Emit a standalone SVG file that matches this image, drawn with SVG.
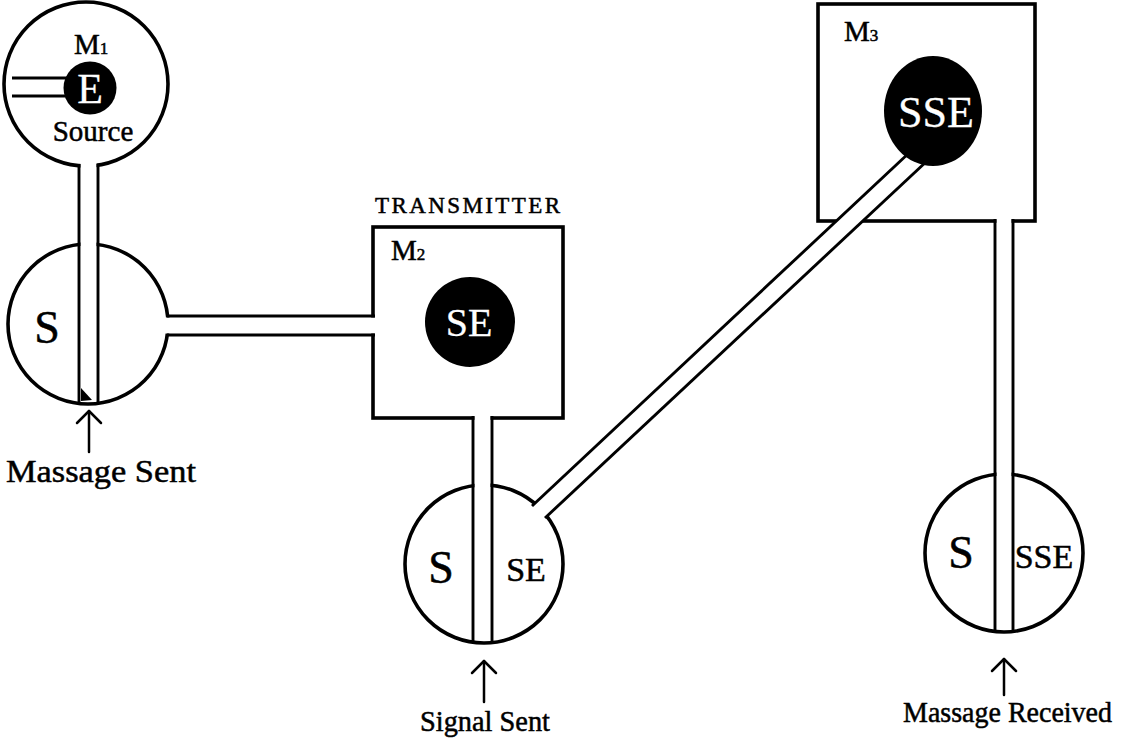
<svg xmlns="http://www.w3.org/2000/svg" width="1123" height="742" viewBox="0 0 1123 742">
  <style>
    .ring { fill: #fff; stroke: #000; stroke-width: 3.6; }
    .box { fill: #fff; stroke: #000; stroke-width: 3.6; }
    .disc { fill: #000; }
    .wall { stroke: #000; stroke-width: 2.9; fill: none; }
    .bore { fill: #fff; stroke: none; }
    .arrow { stroke: #000; stroke-width: 2.5; fill: none; stroke-linecap: round; stroke-linejoin: round; }
    text { font-family: "Liberation Serif", "DejaVu Serif", serif; fill: #000; stroke: #000; stroke-width: 0.5; }
    .inv { fill: #fff; stroke: #fff; stroke-width: 0.3; }
    .big { font-size: 46px; }
    .lbl { font-size: 29px; }
    .m { font-size: 29px; }
    .sub { font-size: 17px; }
  </style>

  <!-- M1: source circle -->
  <g id="m1">
    <circle class="ring" cx="86" cy="84" r="82"/>
    <line class="wall" x1="12" y1="78" x2="68" y2="78"/>
    <line class="wall" x1="12" y1="96" x2="68" y2="96"/>
    <circle class="disc" cx="90" cy="88" r="26.5"/>
    <text class="inv" x="90" y="103" font-size="42" text-anchor="middle">E</text>
    <text class="m" x="74" y="54">M<tspan class="sub">1</tspan></text>
    <text class="lbl" x="93" y="141" text-anchor="middle">Source</text>
  </g>

  <!-- S: message circle -->
  <g id="s-sent">
    <circle class="ring" cx="88" cy="324" r="80"/>
    <text class="big" x="47" y="343" text-anchor="middle">S</text>
  </g>

  <!-- M2: transmitter box -->
  <g id="m2">
    <text x="375" y="213" font-size="23" textLength="185" lengthAdjust="spacing">TRANSMITTER</text>
    <rect class="box" x="373" y="227" width="190" height="191"/>
    <text class="m" x="391" y="260">M<tspan class="sub">2</tspan></text>
  </g>

  <!-- S | SE: signal circle -->
  <g id="s-se">
    <circle class="ring" cx="484" cy="564" r="79"/>
    <text class="big" x="441" y="583" text-anchor="middle">S</text>
    <text x="526" y="581" font-size="34" text-anchor="middle">SE</text>
  </g>

  <!-- M3: box -->
  <g id="m3">
    <rect class="box" x="818" y="4" width="217" height="217"/>
    <text class="m" x="844" y="41">M<tspan class="sub">3</tspan></text>
  </g>

  <!-- S | SSE: received circle -->
  <g id="s-sse">
    <circle class="ring" cx="1004" cy="553" r="79"/>
    <text class="big" x="961" y="568" text-anchor="middle" font-size="43">S</text>
    <text x="1044" y="568" font-size="34" text-anchor="middle">SSE</text>
  </g>

  <!-- tubes between the parts -->
  <g id="connectors">
    <!-- M1 down through S -->
    <rect class="bore" x="80.5" y="158" width="16" height="94"/>
    <line class="wall" x1="79" y1="164" x2="79" y2="403"/>
    <line class="wall" x1="98" y1="164" x2="98" y2="403"/>
    <polygon points="81,388 92,400 81,401" fill="#000"/>

    <!-- S across to M2 -->
    <rect class="bore" x="160" y="317.5" width="217" height="16"/>
    <line class="wall" x1="167" y1="316" x2="375" y2="316"/>
    <line class="wall" x1="167" y1="335" x2="375" y2="335"/>

    <!-- M2 down through S|SE -->
    <rect class="bore" x="474.5" y="414" width="16" height="78"/>
    <line class="wall" x1="473" y1="416" x2="473" y2="642"/>
    <line class="wall" x1="492" y1="416" x2="492" y2="642"/>

    <!-- S|SE diagonally up to M3 -->
    <polygon class="bore" points="527,511 906,156 923,165 540,523"/>
    <line class="wall" x1="532" y1="506" x2="910" y2="152"/>
    <line class="wall" x1="545" y1="518" x2="927" y2="161"/>

    <!-- M3 down through S|SSE -->
    <rect class="bore" x="996.5" y="216" width="15" height="266"/>
    <line class="wall" x1="995" y1="219" x2="995" y2="631"/>
    <line class="wall" x1="1013" y1="219" x2="1013" y2="631"/>
  </g>

  <!-- dark inner units drawn over the tube ends -->
  <g id="se-unit">
    <circle class="disc" cx="470" cy="322" r="45"/>
    <text class="inv" x="469" y="336" font-size="40" text-anchor="middle">SE</text>
  </g>
  <g id="sse-unit">
    <ellipse class="disc" cx="933" cy="111" rx="49" ry="55"/>
    <text class="inv" x="936" y="127" font-size="44" text-anchor="middle">SSE</text>
  </g>

  <!-- pointer labels -->
  <g id="label-message-sent">
    <line class="arrow" x1="89" y1="411" x2="89" y2="452"/>
    <polyline class="arrow" points="77,423 89,411 101,423"/>
    <text x="6" y="482" font-size="31" textLength="190" lengthAdjust="spacingAndGlyphs">Massage Sent</text>
  </g>
  <g id="label-signal-sent">
    <line class="arrow" x1="484" y1="661" x2="484" y2="702"/>
    <polyline class="arrow" points="472,673 484,661 496,673"/>
    <text class="lbl" x="420" y="731" textLength="130" lengthAdjust="spacingAndGlyphs">Signal Sent</text>
  </g>
  <g id="label-message-received">
    <line class="arrow" x1="1004" y1="659" x2="1004" y2="695"/>
    <polyline class="arrow" points="992,671 1004,659 1016,671"/>
    <text class="lbl" x="903" y="722" textLength="209" lengthAdjust="spacingAndGlyphs">Massage Received</text>
  </g>
</svg>
